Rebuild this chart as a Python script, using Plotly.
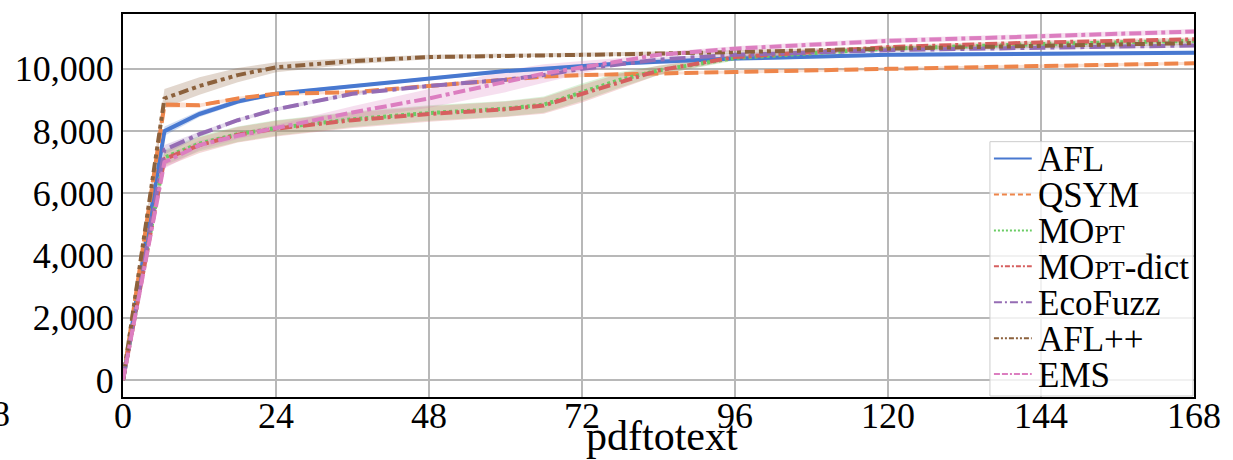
import plotly.graph_objects as go

# ---------------- data ----------------
hours = [0, 6.5, 12, 18, 24, 36, 48, 60, 66, 72, 78, 84, 96, 120, 144, 168]

afl      = [0, 8000, 8550, 8950, 9200, 9450, 9700, 9930, 10000, 10100, 10170, 10230, 10330, 10450, 10500, 10520]
qsym     = [0, 8850, 8830, 9050, 9200, 9250, 9450, 9650, 9750, 9800, 9830, 9860, 9900, 10000, 10080, 10180]
mopt     = [0, 7150, 7600, 7900, 8100, 8380, 8580, 8720, 8850, 9250, 9650, 9950, 10350, 10650, 10800, 10900]
mopt_d   = [0, 7100, 7550, 7880, 8080, 8350, 8550, 8700, 8820, 9200, 9600, 9950, 10380, 10700, 10850, 10950]
ecofuzz  = [0, 7400, 7900, 8350, 8700, 9200, 9450, 9650, 9800, 10000, 10150, 10300, 10450, 10600, 10680, 10750]
aflpp    = [0, 9050, 9450, 9800, 10050, 10250, 10380, 10430, 10440, 10450, 10470, 10490, 10540, 10650, 10750, 10830]
ems      = [0, 7000, 7550, 7850, 8100, 8600, 9050, 9600, 9850, 10050, 10250, 10450, 10650, 10900, 11050, 11200]

# half-width of the shaded band around each curve
afl_sd     = [0, 150, 100, 80, 60, 60, 60, 60, 60, 60, 60, 60, 60, 60, 60, 60]
qsym_sd    = [0, 100, 60, 50, 50, 50, 50, 50, 50, 50, 50, 50, 50, 50, 50, 50]
mopt_sd    = [0, 250, 250, 250, 250, 250, 250, 250, 260, 280, 250, 150, 80, 60, 60, 60]
mopt_d_sd  = [0, 250, 250, 250, 250, 250, 250, 250, 260, 280, 250, 150, 80, 60, 60, 60]
ecofuzz_sd = [0, 150, 80, 60, 60, 60, 60, 60, 60, 60, 60, 60, 60, 60, 60, 60]
aflpp_sd   = [0, 300, 280, 230, 160, 100, 70, 60, 60, 60, 60, 60, 60, 60, 60, 60]
ems_sd     = [0, 200, 150, 100, 100, 200, 300, 350, 300, 200, 100, 80, 80, 80, 80, 80]

names = ["AFL", "QSYM", "MOpt", "MOpt-dict", "EcoFuzz", "AFL++", "EMS"]
labels = ["AFL", "QSYM",
          "MO<span style='font-size:26px'>PT</span>",
          "MO<span style='font-size:26px'>PT</span>-dict",
          "EcoFuzz", "AFL++", "EMS"]
series = [afl, qsym, mopt, mopt_d, ecofuzz, aflpp, ems]
spreads = [afl_sd, qsym_sd, mopt_sd, mopt_d_sd, ecofuzz_sd, aflpp_sd, ems_sd]
colors = ["#4878d0", "#ee854a", "#6acc64", "#d65f5f", "#956cb4", "#8c613c", "#dc7ec0"]
dashes = ["solid", "14px,6px", "3px,3px", "12px,4px,3px,4px", "16px,5px,4px,5px",
          "10px,4px,4px,4px,4px,4px", "12px,4px,12px,4px,4px,4px"]
leg_dashes = ["solid", "5px,3px", "2px,2px", "5px,2px,2px,2px", "8px,3px,2px,3px",
              "5px,2px,2px,2px,2px,2px", "6px,2px,6px,2px,2px,2px"]

x_ticks = [0, 24, 48, 72, 96, 120, 144, 168]
y_ticks = [0, 2000, 4000, 6000, 8000, 10000]


def rgba(hexc, a):
    h = hexc.lstrip("#")
    return "rgba(%d,%d,%d,%.2f)" % (int(h[0:2], 16), int(h[2:4], 16), int(h[4:6], 16), a)


fig = go.Figure()

# shaded bands
for ys, sd, c, n in zip(series, spreads, colors, names):
    lo = [v - s for v, s in zip(ys, sd)]
    hi = [v + s for v, s in zip(ys, sd)]
    fig.add_trace(go.Scatter(x=hours + hours[::-1], y=hi + lo[::-1], fill="toself",
                             fillcolor=rgba(c, 0.25), line=dict(width=0),
                             hoverinfo="skip", showlegend=False, name=n + " band"))

# curves
for ys, c, d, n in zip(series, colors, dashes, names):
    fig.add_trace(go.Scatter(x=hours, y=ys, mode="lines", name=n,
                             line=dict(color=c, width=4, dash=d), showlegend=False))

FONT = "Times New Roman, Liberation Serif, Times, serif"
L, R, T, B = 123, 34, 13, 63
W, H = 1233, 460
PW, PH = W - L - R, H - T - B


def px_x(px):
    return (px - L) / PW


def px_y(py):
    return (H - B - py) / PH


# custom legend (box, samples, labels)
shapes = [dict(type="rect", xref="paper", yref="paper",
               x0=px_x(994), x1=px_x(1198), y0=px_y(396), y1=px_y(141),
               line=dict(color="#cccccc", width=1), fillcolor="rgba(255,255,255,0.8)",
               layer="above")]
annotations = []
row_y = [158, 194, 230, 266, 302, 338, 374]
for lab, c, d, ry in zip(labels, colors, leg_dashes, row_y):
    shapes.append(dict(type="line", xref="paper", yref="paper",
                       x0=px_x(998), x1=px_x(1036), y0=px_y(ry), y1=px_y(ry),
                       line=dict(color=c, width=2, dash=d), layer="above"))
    annotations.append(dict(xref="paper", yref="paper", x=px_x(1040), y=px_y(ry + 1),
                            xanchor="left", yanchor="middle", text=lab, showarrow=False,
                            font=dict(family=FONT, size=35, color="black")))

# x-axis title and stray tick fragment (from neighbouring panel)
annotations.append(dict(xref="paper", yref="paper", x=px_x(665), y=px_y(436),
                        xanchor="center", yanchor="middle", text="pdftotext", showarrow=False,
                        font=dict(family=FONT, size=42, color="black")))
annotations.append(dict(xref="paper", yref="paper", x=px_x(11), y=px_y(414),
                        xanchor="right", yanchor="middle", text="8", showarrow=False,
                        font=dict(family=FONT, size=36, color="black")))

fig.update_layout(
    width=W, height=H,
    margin=dict(l=L, r=R, t=T, b=B),
    paper_bgcolor="white", plot_bgcolor="white",
    font=dict(family=FONT, size=36, color="black"),
    shapes=shapes, annotations=annotations,
    showlegend=False,
)
fig.update_xaxes(range=[0, 168], tickvals=x_ticks, showgrid=True, gridcolor="#b8b8b8",
                 gridwidth=1.5, showline=True, linecolor="black", linewidth=2, mirror=True,
                 ticks="", zeroline=False, tickfont=dict(family=FONT, size=36),
                 ticklabelstandoff=-14)
fig.update_yaxes(range=[-545, 11763], tickvals=y_ticks, tickformat=",d", showgrid=True,
                 gridcolor="#b8b8b8", gridwidth=1.5, showline=True, linecolor="black",
                 linewidth=2, mirror=True, ticks="", zeroline=False,
                 tickfont=dict(family=FONT, size=36))

fig.write_html("out.html")
